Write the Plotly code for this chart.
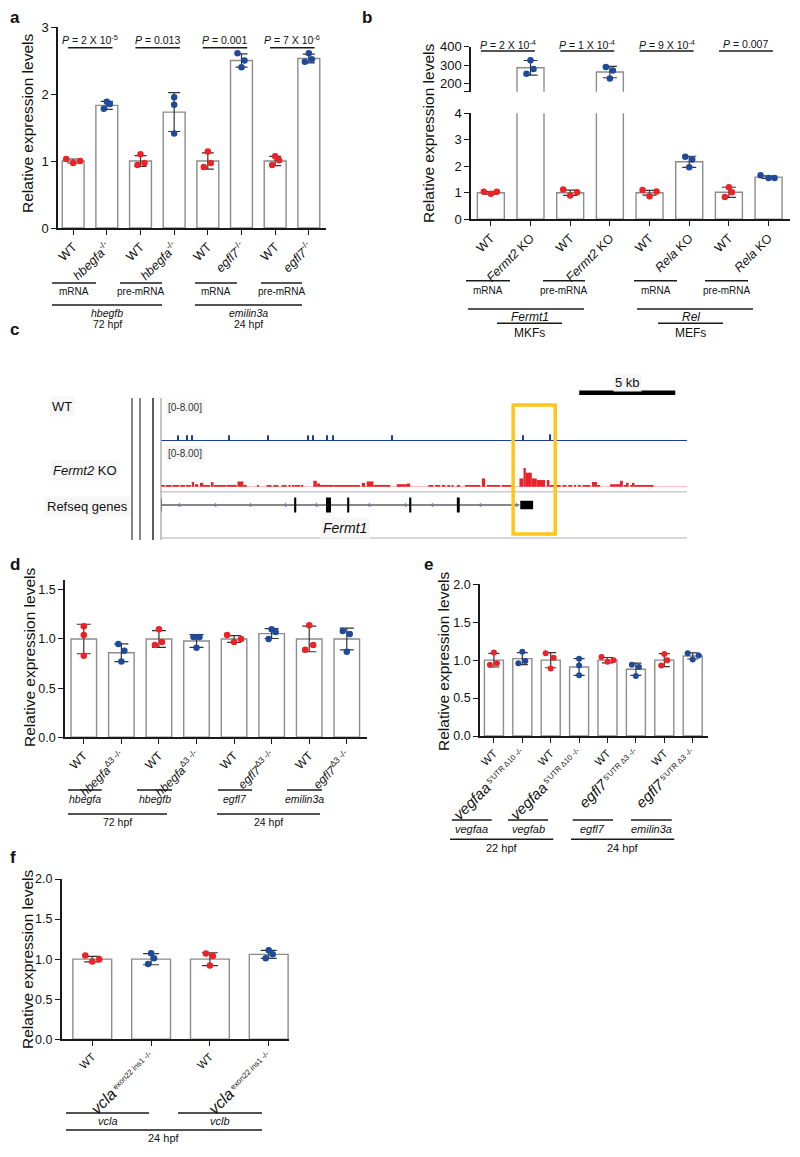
import plotly.graph_objects as go

W, H = 800, 1157
FONT = "Liberation Sans, Arial, Helvetica, sans-serif"
RED = "#EC2227"
BLUE = "#1D4A9B"
BAR_EDGE = "#8C8C8C"
AXIS_C = "#1A1A1A"
ERR_C = "#333333"
TRACK_BLUE = "#1C3D98"
TRACK_RED = "#E8212B"

# ======================= DATA =======================
# ---- panel a ----
a_labels = ["WT", "<i>hbegfa</i><sup>-/-</sup>", "WT", "<i>hbegfa</i><sup>-/-</sup>",
            "WT", "<i>egfl7</i><sup>-/-</sup>", "WT", "<i>egfl7</i><sup>-/-</sup>"]
a_means = [1.00, 1.83, 1.00, 1.73, 1.00, 2.50, 1.00, 2.53]
a_sd = [0.03, 0.06, 0.08, 0.29, 0.12, 0.10, 0.07, 0.065]
a_points = [[1.03, 0.97, 1.00], [1.78, 1.885, 1.85], [0.94, 1.10, 0.97], [1.95, 1.84, 1.41],
            [0.91, 1.14, 0.97], [2.61, 2.40, 2.50], [0.94, 1.07, 1.01], [2.48, 2.61, 2.52]]
a_pvalues = ["2 X 10<sup>-5</sup>", "0.013", "0.001", "7 X 10<sup>-6</sup>"]
a_row1 = ["mRNA", "pre-mRNA", "mRNA", "pre-mRNA"]
a_row2 = ["hbegfb", "emilin3a"]
a_row3 = ["72 hpf", "24 hpf"]

# ---- panel b ----
b_labels = ["WT", "<i>Fermt2</i> KO", "WT", "<i>Fermt2</i> KO",
            "WT", "<i>Rela</i> KO", "WT", "<i>Rela</i> KO"]
b_means = [1.00, 285, 1.00, 262, 1.00, 2.17, 1.02, 1.59]
b_sd = [0.05, 40, 0.10, 31, 0.09, 0.21, 0.19, 0.05]
b_points = [[1.04, 0.96, 1.04], [253, 326, 278], [1.12, 0.90, 1.02], [289, 227, 271],
            [1.11, 0.87, 1.05], [2.36, 1.96, 2.26], [0.84, 1.21, 1.02], [1.66, 1.56, 1.56]]
b_pvalues = ["2 X 10<sup>-4</sup>", "1 X 10<sup>-4</sup>", "9 X 10<sup>-4</sup>", "0.007"]
b_row1 = ["mRNA", "pre-mRNA", "mRNA", "pre-mRNA"]
b_row2 = ["Fermt1", "Rel"]
b_row3 = ["MKFs", "MEFs"]

# ---- panel c (genome browser, kb) ----
c_span_kb = 27.38
blue_pos = [0.89, 1.35, 1.61, 3.54, 5.57, 7.66, 7.92, 8.65, 8.96, 12.03, 18.85, 20.26]
blue_h = [1.2, 1.2, 1.2, 1.2, 1.2, 1.2, 1.2, 1.2, 1.2, 1.2, 1.2, 1.4]
red_start = [0.00, 0.25, 0.60, 1.00, 1.30, 1.60, 1.77, 2.03, 2.20, 2.60, 2.73, 3.42, 3.98, 4.29,
             5.00, 5.50, 5.85, 6.28, 6.63, 6.82, 7.02, 7.18, 7.33, 7.93, 8.11, 8.28, 8.98, 10.45,
             10.71, 11.06, 12.27, 12.80, 13.92, 14.27, 14.62, 14.90, 15.12, 15.40, 15.83, 16.70,
             16.96, 17.74, 18.66, 18.87, 18.99, 19.30, 19.56, 20.08, 20.22, 20.60, 20.90, 21.20,
             21.50, 21.70, 21.95, 22.43, 22.69, 23.38, 23.94, 24.08, 24.25, 24.43, 24.56, 24.65]
red_end = [0.20, 0.55, 0.95, 1.25, 1.55, 1.72, 1.94, 2.20, 2.55, 2.73, 3.40, 3.94, 4.29, 4.46,
           5.06, 5.75, 6.11, 6.54, 6.75, 6.95, 7.12, 7.24, 7.40, 8.11, 8.28, 8.98, 10.36, 10.62,
           11.06, 11.93, 12.80, 12.97, 14.18, 14.53, 14.80, 15.05, 15.23, 15.57, 16.62, 16.87,
           17.66, 18.26, 18.87, 18.99, 19.30, 19.56, 19.99, 20.22, 20.52, 20.80, 21.10, 21.40,
           21.60, 21.85, 22.35, 22.69, 22.86, 23.90, 24.04, 24.25, 24.34, 24.56, 24.65, 25.64]
red_h = [0.35, 0.30, 0.35, 0.40, 0.35, 1.10, 0.60, 0.90, 0.37, 1.05, 0.37, 0.45, 1.20, 0.45,
         0.30, 0.30, 0.30, 0.30, 0.30, 0.30, 0.30, 0.30, 0.45, 1.35, 0.75, 0.45, 0.37, 0.90,
         1.20, 0.45, 0.60, 0.75, 0.30, 0.30, 0.30, 0.30, 0.30, 0.30, 0.37, 1.85,
         0.37, 0.37, 1.85, 4.10, 3.10, 1.85, 1.50, 1.50, 0.37, 0.30, 0.30, 0.30,
         0.30, 0.30, 0.30, 1.10, 0.30, 0.60, 1.35, 0.30, 0.90, 0.30, 0.90, 0.30]
gene_start, gene_end = 0.0, 18.65
exon_start = [6.93, 8.59, 9.69, 12.92, 15.40, 18.70]
exon_end = [7.04, 8.85, 9.80, 13.03, 15.55, 19.37]
exon_h = [1.5, 1.5, 1.5, 1.5, 1.5, 0.85]
strand_pos = [0.94, 2.81, 4.64, 6.46, 8.07, 10.83, 12.71, 14.11, 16.61, 18.49]
highlight_kb = [18.33, 20.52]
scale_start_kb, scale_kb = 21.77, 5

# ---- panel d ----
d_labels = ["WT", "<i>hbegfa</i><sup>Δ3 -/-</sup>", "WT", "<i>hbegfa</i><sup>Δ3 -/-</sup>",
            "WT", "<i>egfl7</i><sup>Δ3 -/-</sup>", "WT", "<i>egfl7</i><sup>Δ3 -/-</sup>"]
d_means = [1.00, 0.86, 1.00, 0.98, 1.00, 1.055, 1.00, 1.00]
d_sd = [0.15, 0.09, 0.085, 0.065, 0.035, 0.05, 0.13, 0.11]
d_points = [[1.13, 1.04, 0.83], [0.95, 0.77, 0.88], [0.94, 1.10, 0.97], [1.02, 0.91, 1.02],
            [1.04, 0.97, 1.00], [1.00, 1.10, 1.07], [0.89, 1.14, 0.94], [1.08, 0.87, 1.05]]
d_row1 = ["hbegfa", "hbegfb", "egfl7", "emilin3a"]
d_row2 = ["72 hpf", "24 hpf"]

# ---- panel e ----
_vegfaa = '<i><span style="font-size:15px">vegfaa</span></i><sup> 5\'UTR Δ10 -/-</sup>'
_egfl7 = '<i><span style="font-size:15px">egfl7</span></i><sup> 5\'UTR Δ3 -/-</sup>'
e_labels = ["WT", _vegfaa, "WT", _vegfaa, "WT", _egfl7, "WT", _egfl7]
e_means = [1.00, 1.02, 1.00, 0.91, 1.00, 0.88, 1.00, 1.055]
e_sd = [0.09, 0.08, 0.10, 0.11, 0.035, 0.08, 0.085, 0.04]
e_points = [[0.94, 1.10, 0.96], [0.96, 1.11, 0.99], [1.09, 0.89, 1.03], [1.02, 0.93, 0.80],
            [1.04, 0.98, 1.00], [0.94, 0.79, 0.91], [0.93, 1.08, 1.00], [1.09, 1.01, 1.06]]
e_row1 = ["vegfaa", "vegfab", "egfl7", "emilin3a"]
e_row2 = ["22 hpf", "24 hpf"]

# ---- panel f ----
_vcla = '<i><span style="font-size:16px">vcla</span></i><sup> exon22 ins1 -/-</sup>'
f_labels = ["WT", _vcla, "WT", _vcla]
f_means = [1.00, 1.00, 1.00, 1.06]
f_sd = [0.035, 0.07, 0.08, 0.05]
f_points = [[1.045, 0.97, 1.00], [0.94, 1.075, 1.01], [1.07, 0.92, 1.04], [1.01, 1.11, 1.06]]
f_row1 = ["vcla", "vclb"]
f_row2 = ["24 hpf"]

# ======================= LAYOUT HELPERS (positions/styles) =======================
a_jit = [[-7, 0, 7], [-3, 0, 3], [-3, 0, 4], [0, 0, 0], [-4, 0, 3], [-4, 0, 3], [-3, 0, 4], [-4, 0, 3]]
b_jit = [[-7, 0, 6], [-4, 0, 3], [-7, 0, 7], [-4, 0, 3], [-7, 0, 7], [-4, 0, 3], [-4, 0, 3], [-8, 0, 6]]
d_jit = [[0, 0, 0], [-3, 0, 3], [-4, 0, 3], [-3, 0, 3], [-7, 0, 7], [-3, 0, 4], [-4, 0, 4], [-4, 0, 3]]
e_jit = [[-4, 0, 3], [-4, 0, 3], [-5, 0, 3], [0, 0, 0], [-6, 0, 6], [-4, 0, 3], [-3, 0, 3], [-5, 0, 6]]
f_jit = [[-7, 0, 7], [-3, 0, 3], [-4, 0, 3], [-3, 0, 4]]

fig = go.Figure()
shapes, annos, lay = [], [], {}


def px_x(p):
    return p / W


def px_y(p):
    return 1 - p / H


def add_xaxis(name, dom, rng, anchor, tickvals=None, ticktext=None, size=12, visible=True):
    ax = dict(domain=[px_x(dom[0]), px_x(dom[1])], range=rng, anchor=anchor,
              showgrid=False, zeroline=False, fixedrange=True, automargin=False)
    if visible:
        ax.update(showline=True, linecolor=AXIS_C, linewidth=1.5, ticks="outside", ticklen=5,
                  tickwidth=1.3, tickcolor=AXIS_C, tickmode="array", tickvals=tickvals,
                  ticktext=ticktext, tickangle=-45,
                  tickfont=dict(family=FONT, size=size, color="#111"))
    else:
        ax.update(visible=False)
    lay[name] = ax


def add_yaxis(name, dom, rng, anchor, tickvals=None, ticktext=None, size=13, visible=True):
    ax = dict(domain=[px_y(dom[1]), px_y(dom[0])], range=rng, anchor=anchor,
              showgrid=False, zeroline=False, fixedrange=True, automargin=False)
    if visible:
        ax.update(showline=True, linecolor=AXIS_C, linewidth=1.5, ticks="outside", ticklen=5,
                  tickwidth=1.3, tickcolor=AXIS_C, tickmode="array", tickvals=tickvals,
                  ticktext=ticktext, tickfont=dict(family=FONT, size=size, color="#111"))
    else:
        ax.update(visible=False)
    lay[name] = ax


def text(x, y, s, size=10, anchor="center", angle=0, bold=False, bg=None, color="#111"):
    if bold:
        s = "<b>" + s + "</b>"
    d = dict(x=px_x(x), y=px_y(y), xref="paper", yref="paper", text=s, showarrow=False,
             xanchor=anchor, yanchor="middle", textangle=angle,
             font=dict(family=FONT, size=size, color=color))
    if bg:
        d.update(bgcolor=bg, borderpad=2)
    annos.append(d)


def hline(x0, x1, y, width=1.5, color="#1a1a1a"):
    shapes.append(dict(type="line", xref="paper", yref="paper", x0=px_x(x0), x1=px_x(x1),
                       y0=px_y(y), y1=px_y(y), line=dict(color=color, width=width)))


def vline(x, y0, y1, width=1.2, color="#222"):
    shapes.append(dict(type="line", xref="paper", yref="paper", x0=px_x(x), x1=px_x(x),
                       y0=px_y(y0), y1=px_y(y1), line=dict(color=color, width=width)))


def bar_panel(xa, ya, means, sd, points, jit, step_px, bar_w, cap, msize=6.5):
    n = len(means)
    idx = list(range(n))
    fig.add_trace(go.Bar(x=idx, y=means, width=bar_w, xaxis=xa, yaxis=ya,
                         marker=dict(color="white", line=dict(color=BAR_EDGE, width=1.4)),
                         hoverinfo="skip"))
    fig.add_trace(go.Scatter(x=idx, y=means, xaxis=xa, yaxis=ya, mode="markers",
                             marker=dict(size=2, color="rgba(0,0,0,0)"),
                             error_y=dict(type="data", array=sd, symmetric=True, color=ERR_C,
                                          thickness=1.2, width=cap), hoverinfo="skip"))
    for parity, col in ((0, RED), (1, BLUE)):
        xs, ys = [], []
        for i in range(parity, n, 2):
            for v, j in zip(points[i], jit[i]):
                xs.append(i + j / step_px)
                ys.append(v)
        fig.add_trace(go.Scatter(x=xs, y=ys, xaxis=xa, yaxis=ya, mode="markers",
                                 marker=dict(size=msize, color=col), hoverinfo="skip"))


def ytitle(x, y):
    text(x, y, "Relative expression levels", size=15.5, angle=-90)


# ======================= PANEL a =======================
add_xaxis("xaxis", (58, 326), [-0.45, 7.51], "y", list(range(8)), a_labels, size=12.5)
add_yaxis("yaxis", (27, 228), [0, 3], "x", [0, 1, 2, 3], ["0", "1", "2", "3"])
bar_panel("x", "y", a_means, a_sd, a_points, a_jit, 33.7, 0.65, 6)
for k, pv in enumerate(a_pvalues):
    c = 2 * k + 0.5
    shapes.append(dict(type="line", xref="x", yref="paper", x0=c - 0.65, x1=c + 0.67,
                       y0=px_y(47.7), y1=px_y(47.7), line=dict(color="#1a1a1a", width=1.5)))
    annos.append(dict(x=c, y=px_y(40), xref="x", yref="paper", showarrow=False,
                      text="<i>P</i> = " + pv, font=dict(family=FONT, size=10.5, color="#111"),
                      xanchor="center", yanchor="middle"))
for (x0, x1), s in zip([(52, 96), (120, 162), (195, 237), (261, 302)], a_row1):
    hline(x0, x1, 283)
    text((x0 + x1) / 2, 291.5, s, size=10)
for (x0, x1), s2, s3 in zip([(52, 162), (195, 302)], a_row2, a_row3):
    hline(x0, x1, 305)
    text((x0 + x1) / 2, 313, "<i>" + s2 + "</i>", size=10.5)
    text((x0 + x1) / 2, 324, s3, size=10.5)
ytitle(28, 124)
text(15, 18, "a", size=17, bold=True)

# ======================= PANEL b =======================
add_xaxis("xaxis2", (471, 790), [-0.5, 7.54], "y2", list(range(8)), b_labels, size=12.5)
add_yaxis("yaxis2", (113.3, 219.3), [0, 4], "x2", [0, 1, 2, 3, 4], ["0", "1", "2", "3", "4"])
add_xaxis("xaxis3", (471, 790), [-0.5, 7.54], "y3", visible=False)
add_yaxis("yaxis3", (46.7, 91.7), [155, 400], "x3", [155, 200, 300, 400], [" ", "200", "300", "400"])
bar_panel("x2", "y2", b_means, b_sd, b_points, b_jit, 39.7, 0.68, 7)
bar_panel("x3", "y3", b_means, b_sd, b_points, b_jit, 39.7, 0.68, 7)
for k, pv in enumerate(b_pvalues):
    c = 2 * k + 0.5 - 0.07
    shapes.append(dict(type="line", xref="x2", yref="paper", x0=c - 0.68, x1=c + 0.68,
                       y0=px_y(51), y1=px_y(51), line=dict(color="#1a1a1a", width=1.5)))
    annos.append(dict(x=c, y=px_y(44), xref="x2", yref="paper", showarrow=False,
                      text="<i>P</i> = " + pv, font=dict(family=FONT, size=10.5, color="#111"),
                      xanchor="center", yanchor="middle"))
for (x0, x1), s in zip([(466, 510), (543, 585), (634, 677), (705, 748)], b_row1):
    hline(x0, x1, 280.7)
    text((x0 + x1) / 2, 290, s, size=10)
for (x0, x1), s in zip([(468, 584), (637, 753)], b_row2):
    hline(x0, x1, 309)
for (x0, x1), s2, s3 in zip([(497, 562), (658, 723)], b_row2, b_row3):
    text((x0 + x1) / 2, 316.7, "<i>" + s2 + "</i>", size=12)
    hline(x0, x1, 323.3)
    text((x0 + x1) / 2, 333, s3, size=12)
ytitle(429, 134)
text(367, 18, "b", size=17, bold=True)

# ======================= PANEL c =======================
add_xaxis("xaxis4", (161, 687), [0, c_span_kb], "y6", visible=False)
add_yaxis("yaxis4", (403, 441), [0, 8], "x4", visible=False)
add_yaxis("yaxis5", (450, 487), [0, 8], "x4", visible=False)
add_yaxis("yaxis6", (495, 515), [-1, 1], "x4", visible=False)
shapes.append(dict(type="line", xref="x4", yref="y4", x0=0, x1=c_span_kb, y0=0, y1=0,
                   line=dict(color=TRACK_BLUE, width=2)))
fig.add_trace(go.Bar(x=blue_pos, y=blue_h, width=0.09, xaxis="x4", yaxis="y4",
                     marker=dict(color=TRACK_BLUE, line=dict(width=0)), hoverinfo="skip"))
shapes.append(dict(type="line", xref="x4", yref="y5", x0=0, x1=c_span_kb, y0=0, y1=0,
                   line=dict(color="#F07A7A", width=1)))
fig.add_trace(go.Bar(x=[(s + e) / 2 for s, e in zip(red_start, red_end)], y=red_h,
                     width=[e - s for s, e in zip(red_start, red_end)], xaxis="x4", yaxis="y5",
                     marker=dict(color=TRACK_RED, line=dict(width=0)), hoverinfo="skip"))
fig.add_trace(go.Scatter(x=[gene_start, gene_end], y=[0, 0], xaxis="x4", yaxis="y6", mode="lines",
                         line=dict(color="#111", width=1.2), hoverinfo="skip"))
fig.add_trace(go.Scatter(x=[gene_start, gene_start], y=[-0.65, 0.65], xaxis="x4", yaxis="y6",
                         mode="lines", line=dict(color="#111", width=1.5), hoverinfo="skip"))
fig.add_trace(go.Scatter(x=strand_pos, y=[0] * len(strand_pos), xaxis="x4", yaxis="y6", mode="text",
                         text=["‹"] * len(strand_pos), textposition="middle center",
                         textfont=dict(family=FONT, size=11, color="#4F74C4"), hoverinfo="skip"))
fig.add_trace(go.Bar(x=[(s + e) / 2 for s, e in zip(exon_start, exon_end)], y=exon_h,
                     base=[-h / 2 for h in exon_h], width=[e - s for s, e in zip(exon_start, exon_end)],
                     xaxis="x4", yaxis="y6", marker=dict(color="#000", line=dict(width=0)),
                     hoverinfo="skip"))
# separators and browser frame
hline(161, 687, 491.7, width=1.5, color="#C9CAD6")
hline(161, 687, 538, width=1.5, color="#C9CAD6")
vline(132, 398, 540, width=1.2, color="#333")
vline(140, 398, 540, width=1.2, color="#333")
vline(153, 398, 540, width=1.6, color="#333")
vline(161, 398, 540, width=1.2, color="#A0A0A0")
shapes.append(dict(type="rect", xref="x4", yref="paper", x0=highlight_kb[0], x1=highlight_kb[1],
                   y0=px_y(534), y1=px_y(405), line=dict(color="#FFC517", width=3.5)))
shapes.append(dict(type="line", xref="x4", yref="paper", x0=scale_start_kb,
                   x1=scale_start_kb + scale_kb, y0=px_y(392.7), y1=px_y(392.7),
                   line=dict(color="#000", width=4.5)))
annos.append(dict(x=scale_start_kb + scale_kb / 2, y=px_y(383), xref="x4", yref="paper",
                  showarrow=False, text=f"{scale_kb} kb", font=dict(family=FONT, size=13, color="#111"),
                  xanchor="center", yanchor="middle", bgcolor="#F6F6F6"))
text(165, 407, "[0-8.00]", size=10, anchor="left", bg="#F6F6F6", color="#333")
text(165, 454, "[0-8.00]", size=10, anchor="left", bg="#F6F6F6", color="#333")
text(62, 406, "WT", size=13, bg="#F7F7F7")
text(85, 470, "<i>Fermt2</i> KO", size=13, bg="#F7F7F7")
text(87, 506, "Refseq genes", size=13, bg="#F7F7F7")
text(345, 528, "<i>Fermt1</i>", size=14, bg="#F6F6F6")
text(14, 330, "c", size=17, bold=True)

# ======================= PANEL d =======================
add_xaxis("xaxis5", (65, 366.7), [-0.5, 7.53], "y7", list(range(8)), d_labels, size=12)
add_yaxis("yaxis7", (580, 737.3), [0, 1.6], "x5", [0, 0.5, 1.0, 1.5], ["0.0", "0.5", "1.0", "1.5"],
          size=12.5)
bar_panel("x5", "y7", d_means, d_sd, d_points, d_jit, 37.6, 0.68, 7)
for (x0, x1), s in zip([(68, 101.7), (137, 172), (218, 252), (287, 322)], d_row1):
    hline(x0, x1, 790)
    text((x0 + x1) / 2, 799, "<i>" + s + "</i>", size=10.5)
for (x0, x1), s in zip([(68, 167), (217, 320)], d_row2):
    hline(x0, x1, 814)
    text((x0 + x1) / 2, 822, s, size=10.5)
ytitle(29, 658)
text(15, 564, "d", size=17, bold=True)

# ======================= PANEL e =======================
add_xaxis("xaxis6", (480, 708.3), [-0.49, 7.55], "y8", list(range(8)), e_labels, size=11)
add_yaxis("yaxis8", (584.3, 736), [0, 2], "x6", [0, 0.5, 1.0, 1.5, 2.0],
          ["0.0", "0.5", "1.0", "1.5", "2.0"], size=12.5)
bar_panel("x6", "y8", e_means, e_sd, e_points, e_jit, 28.4, 0.67, 5.5, msize=6)
for (x0, x1), s in zip([(451.7, 491.7), (508, 548), (572.7, 613), (631, 671.7)], e_row1):
    hline(x0, x1, 820)
    text((x0 + x1) / 2, 828.5, "<i>" + s + "</i>", size=11)
for (x0, x1), s in zip([(450, 553.3), (571, 674.3)], e_row2):
    hline(x0, x1, 839.3)
    text((x0 + x1) / 2, 848, s, size=11)
ytitle(444, 662)
text(428, 564, "e", size=17, bold=True)

# ======================= PANEL f =======================
add_xaxis("xaxis7", (61.7, 289.3), [-0.52, 3.35], "y9", list(range(4)), f_labels, size=11)
add_yaxis("yaxis9", (879, 1039.3), [0, 2], "x7", [0, 0.5, 1.0, 1.5, 2.0],
          ["0.0", "0.5", "1.0", "1.5", "2.0"], size=12.5)
bar_panel("x7", "y9", f_means, f_sd, f_points, f_jit, 58.9, 0.66, 8)
for (x0, x1), s in zip([(66, 149), (178, 262)], f_row1):
    hline(x0, x1, 1113)
    text((x0 + x1) / 2, 1121, "<i>" + s + "</i>", size=11)
for (x0, x1), s in zip([(66, 262)], f_row2):
    hline(x0, x1, 1130)
    text((x0 + x1) / 2, 1138, s, size=11)
ytitle(27, 960)
text(13, 857, "f", size=17, bold=True)

fig.update_layout(width=W, height=H, autosize=False,
                  margin=dict(l=0, r=0, t=0, b=0, pad=0, autoexpand=False), showlegend=False,
                  paper_bgcolor="white", plot_bgcolor="white", barmode="overlay",
                  font=dict(family=FONT, color="#111"), shapes=shapes, annotations=annos, **lay)
fig.write_html("out.html", config={"responsive": False, "displayModeBar": False},
               post_script="document.body.style.margin='0px';document.body.style.padding='0px';"
                           "document.documentElement.style.margin='0px';")
